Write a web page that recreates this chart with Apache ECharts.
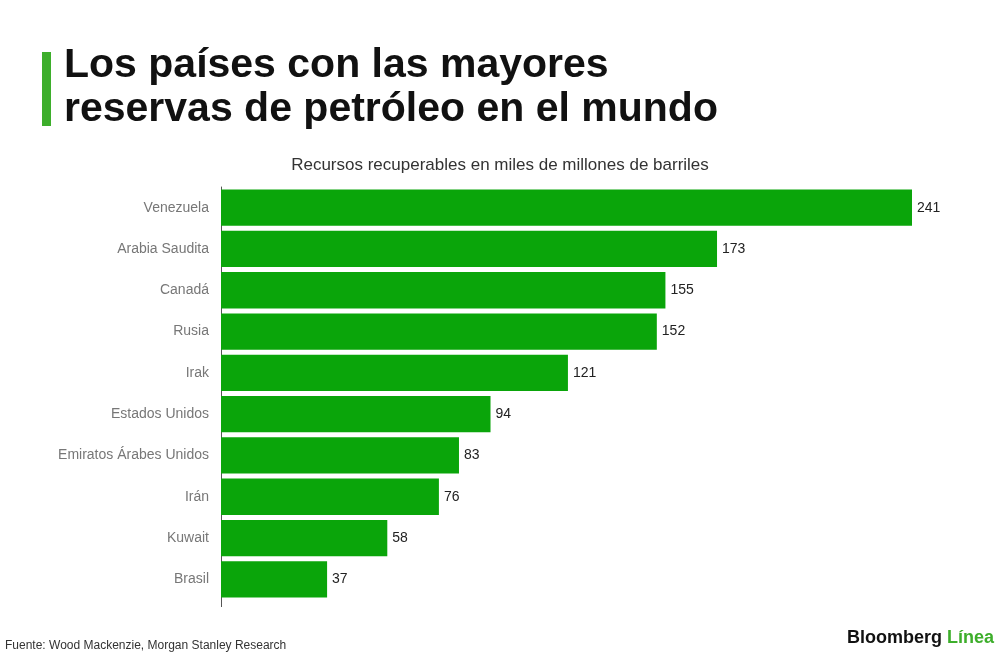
<!DOCTYPE html>
<html lang="es">
<head>
<meta charset="UTF-8">
<title>Reservas de petróleo</title>
<script src="https://cdn.jsdelivr.net/npm/echarts@6/dist/echarts.min.js"></script>
<style>body{margin:0;background:#fff}</style>
</head>
<body>
<div id="wrap" style="width:1000px;height:660px;"></div>
<script>
var paises = ['Venezuela', 'Arabia Saudita', 'Canadá', 'Rusia', 'Irak', 'Estados Unidos',
    'Emiratos Árabes Unidos', 'Irán', 'Kuwait', 'Brasil'];
var reservas = [241, 173, 155, 152, 121, 94, 83, 76, 58, 37];

var myChart = echarts.init(document.getElementById('wrap'));
var font = '"Liberation Sans", Arial, sans-serif';

var option = {
    backgroundColor: '#fff',
    animation: false,
    graphic: [
        {type: 'rect', shape: {x: 42, y: 52, width: 9, height: 74}, style: {fill: '#3dae2b'}},
        {type: 'text', left: 64, top: 44, style: {text: 'Los países con las mayores\nreservas de petróleo en el mundo',
            font: 'bold 41px ' + font, fill: '#111', lineHeight: 44}},
        {type: 'text', left: 'center', top: 157, style: {text: 'Recursos recuperables en miles de millones de barriles',
            font: '17px ' + font, fill: '#333'}},
        {type: 'text', left: 5, top: 640, style: {text: 'Fuente: Wood Mackenzie, Morgan Stanley Research',
            font: '12px ' + font, fill: '#333'}},
        {type: 'line', shape: {x1: 221.5, y1: 598, x2: 221.5, y2: 607}, style: {stroke: '#555', lineWidth: 1}},
        {type: 'text', right: 6, top: 629, style: {
            text: '{a|Bloomberg }{b|Línea}',
            rich: {
                a: {font: 'bold 18px ' + font, fill: '#111'},
                b: {font: 'bold 18px ' + font, fill: '#3dae2b'}
            }}}
    ],
    grid: {left: 221, right: 88, top: 187, bottom: 60},
    xAxis: {type: 'value', min: 0, max: 241, show: false},
    yAxis: {
        type: 'category',
        inverse: true,
        data: paises,
        axisLine: {lineStyle: {color: '#555', width: 1}},
        axisTick: {show: false},
        axisLabel: {color: '#777', fontSize: 14, fontFamily: font, margin: 12}
    },
    series: [{
        type: 'bar',
        data: reservas,
        barCategoryGap: '12%',
        itemStyle: {color: '#0aa50a'},
        label: {show: true, position: 'right', color: '#222', fontSize: 14, fontFamily: font, distance: 5}
    }]
};
myChart.setOption(option);
</script>
</body>
</html>
